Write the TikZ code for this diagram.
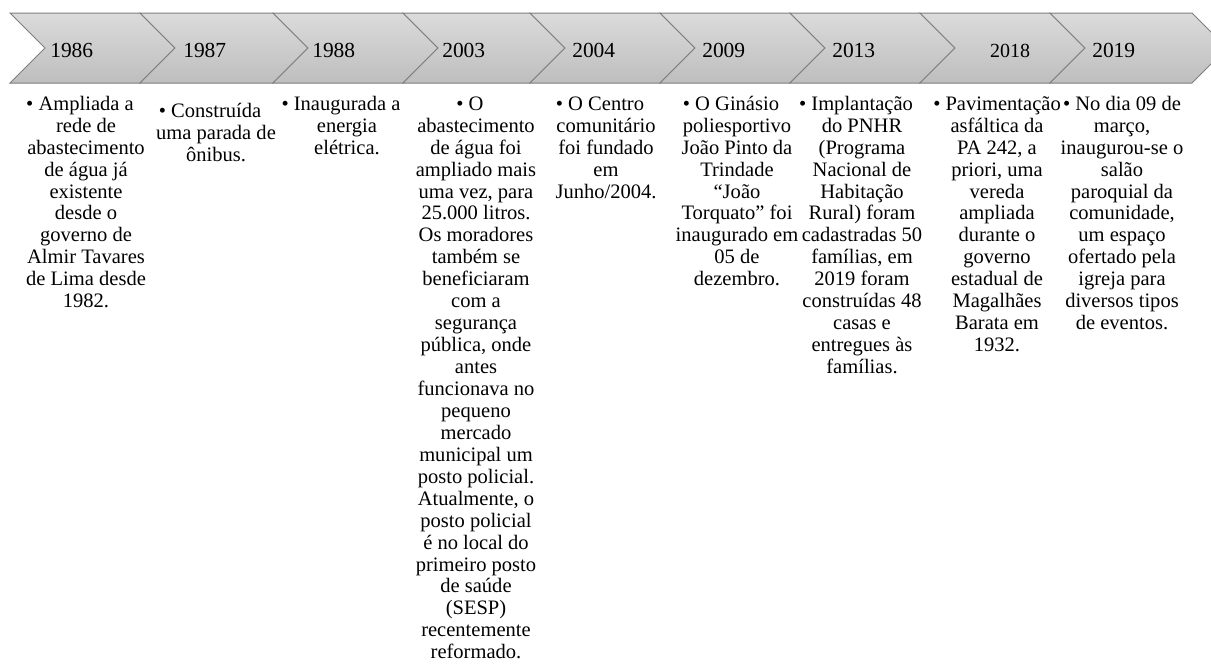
\documentclass[tikz,border=0pt]{standalone}
\usepackage{fontspec}
\setmainfont{Liberation Serif}
\definecolor{chevtop}{HTML}{DBDBDB}
\definecolor{chevbot}{HTML}{BEBEBE}
\definecolor{chevline}{HTML}{7F7F7F}
\newcommand\firstshift{\strut\kern-9pt}
\begin{document}
\begin{tikzpicture}[x=0.75pt,y=-0.75pt,
  chevron/.style={draw=chevline,line width=0.75pt,top color=chevtop,bottom color=chevbot,line join=miter},
  year/.style={font=\fontsize{16.1}{19}\selectfont,anchor=base west,inner sep=0pt},
  body/.style={font=\fontsize{15.4}{16.455}\selectfont,align=center,anchor=north,inner sep=0pt}]
\useasboundingbox (0,0) rectangle (1211,664);
\clip (0,0) rectangle (1211,664);
\foreach \l/\r in {10/140,140/273,273/403,403/530,530/660,660/790,790/920,920/1050,1050/1192}
  \path[chevron] (\l,13) -- (\r,13) -- (\r+35,48) -- (\r,83) -- (\l,83) -- (\l+35,48) -- cycle;
\node[year] (y1) at (50,57) {1986};
\node[year] (y2) at (183,57) {1987};
\node[year] (y3) at (312,57) {1988};
\node[year] (y4) at (442,57) {2003};
\node[year] (y5) at (572,57) {2004};
\node[year] (y6) at (702,57) {2009};
\node[year] (y7) at (832,57) {2013};
\node[year,anchor=base,font=\fontsize{15}{18}\selectfont] (y8) at (1010,57) {2018};
\node[year] (y9) at (1092,57) {2019};
\node[body] (t1) at (86,94.65) {\firstshift• Ampliada a\\rede de\\abastecimento\\de água já\\existente\\desde o\\governo de\\Almir Tavares\\de Lima desde\\1982.};
\node[body] (t2) at (216,101.65) {\firstshift• Construída\\uma parada de\\ônibus.};
\node[body] (t3) at (347,94.65) {\firstshift• Inaugurada a\\energia\\elétrica.};
\node[body] (t4) at (476,94.65) {\firstshift• O\\abastecimento\\de água foi\\ampliado mais\\uma vez, para\\25.000 litros.\\Os moradores\\também se\\beneficiaram\\com a\\segurança\\pública, onde\\antes\\funcionava no\\pequeno\\mercado\\municipal um\\posto policial.\\Atualmente, o\\posto policial\\é no local do\\primeiro posto\\de saúde\\(SESP)\\recentemente\\reformado.};
\node[body] (t5) at (606,94.65) {\firstshift• O Centro\\comunitário\\foi fundado\\em\\Junho/2004.};
\node[body] (t6) at (737,94.65) {\firstshift• O Ginásio\\poliesportivo\\João Pinto da\\Trindade\\“João\\Torquato” foi\\inaugurado em\\05 de\\dezembro.};
\node[body] (t7) at (862,94.65) {\firstshift• Implantação\\do PNHR\\(Programa\\Nacional de\\Habitação\\Rural) foram\\cadastradas 50\\famílias, em\\2019 foram\\construídas 48\\casas e\\entregues às\\famílias.};
\node[body] (t8) at (997,94.65) {\strut• Pavimentação\\asfáltica da\\PA 242, a\\priori, uma\\vereda\\ampliada\\durante o\\governo\\estadual de\\Magalhães\\Barata em\\1932.};
\node[body] (t9) at (1122,94.65) {\strut• No dia 09 de\\março,\\inaugurou-se o\\salão\\paroquial da\\comunidade,\\um espaço\\ofertado pela\\igreja para\\diversos tipos\\de eventos.};
\end{tikzpicture}
\end{document}
